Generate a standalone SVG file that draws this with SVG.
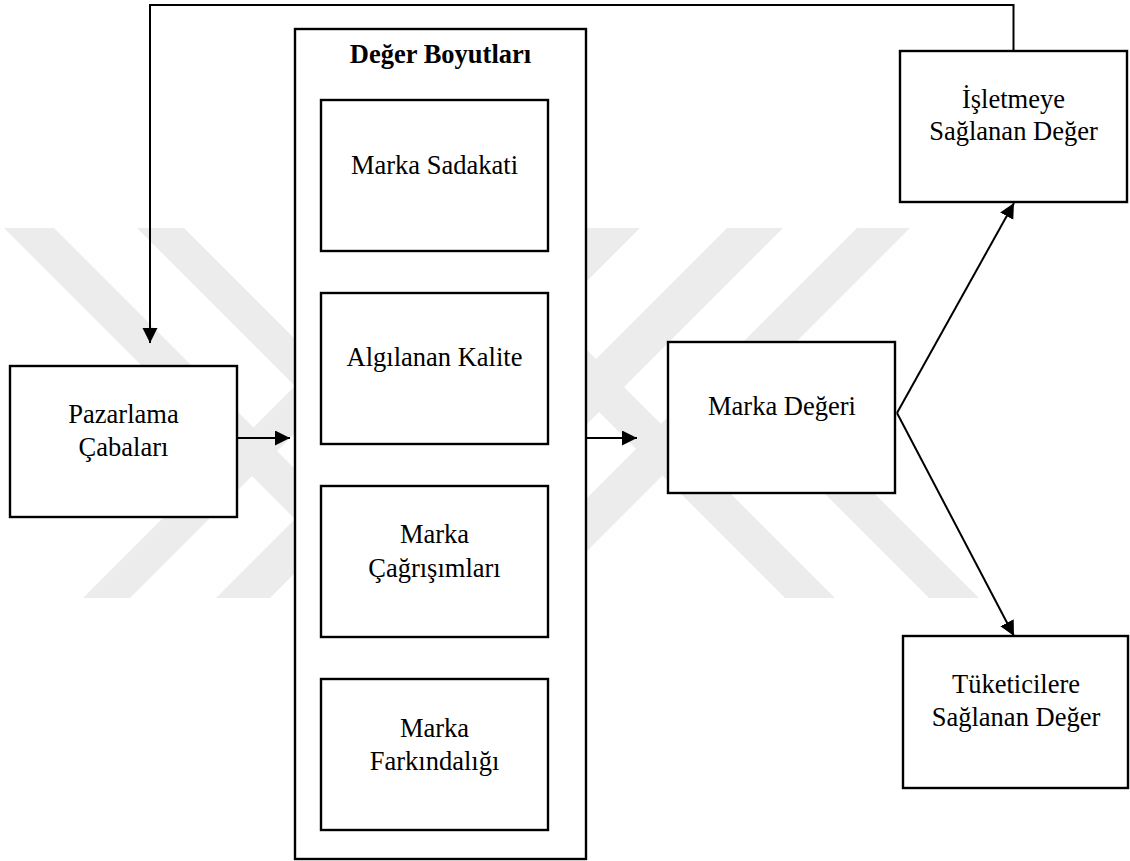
<svg xmlns="http://www.w3.org/2000/svg" width="1130" height="861" viewBox="0 0 1130 861">
  <defs>
    <style>
      .box { fill: #ffffff; stroke: #000000; stroke-width: 2.4; }
      .lbl { font-family: "Liberation Serif", "Times New Roman", serif; font-size: 26.5px; fill: #000000; text-anchor: middle; }
      .ttl { font-weight: bold; }
      .wire { fill: none; stroke: #000000; stroke-width: 2; }
      .mark { fill: #ececec; }
    </style>
    <marker id="head" markerUnits="userSpaceOnUse" markerWidth="16" markerHeight="16" refX="15" refY="7.5" orient="auto">
      <path d="M0,0 L15,7.5 L0,15 z" fill="#000000"/>
    </marker>
  </defs>

  <rect width="1130" height="861" fill="#ffffff"/>

  <!-- faint diagonal background emblem -->
  <g id="watermark" class="mark">
    <polygon points="4,228 54,228 424,598 374,598"/>
    <polygon points="137,228 184,228 554,598 507,598"/>
    <polygon points="415,228 465,228 835,598 785,598"/>
    <polygon points="691,360 741,360 979,598 929,598"/>
    <polygon points="453,228 500,228 130,598 83,598"/>
    <polygon points="586,228 640,228 270,598 216,598"/>
    <polygon points="727,228 783,228 413,598 357,598"/>
    <polygon points="857,228 910,228 540,598 487,598"/>
  </g>

  <!-- value dimensions container -->
  <g id="deger-boyutlari">
    <rect class="box" x="295" y="29" width="291" height="830"/>
    <text class="lbl ttl" x="440.5" y="63">Değer Boyutları</text>
  </g>

  <g id="marka-sadakati">
    <rect class="box" x="321" y="100" width="227" height="151"/>
    <text class="lbl" x="434.5" y="174">Marka Sadakati</text>
  </g>

  <g id="algilanan-kalite">
    <rect class="box" x="321" y="293" width="227" height="151"/>
    <text class="lbl" x="434.5" y="366">Algılanan Kalite</text>
  </g>

  <g id="marka-cagrisimlari">
    <rect class="box" x="321" y="486" width="227" height="151"/>
    <text class="lbl" x="434.5" y="543">Marka</text>
    <text class="lbl" x="434.5" y="577">Çağrışımları</text>
  </g>

  <g id="marka-farkindaligi">
    <rect class="box" x="321" y="679" width="227" height="151"/>
    <text class="lbl" x="434.5" y="737">Marka</text>
    <text class="lbl" x="434.5" y="770">Farkındalığı</text>
  </g>

  <g id="pazarlama-cabalari">
    <rect class="box" x="10" y="366" width="227" height="151"/>
    <text class="lbl" x="123.5" y="423">Pazarlama</text>
    <text class="lbl" x="123.5" y="456">Çabaları</text>
  </g>

  <g id="marka-degeri">
    <rect class="box" x="668" y="342" width="227" height="151"/>
    <text class="lbl" x="782" y="415">Marka Değeri</text>
  </g>

  <g id="isletmeye-deger">
    <rect class="box" x="900" y="51" width="227" height="151"/>
    <text class="lbl" x="1013.5" y="108">İşletmeye</text>
    <text class="lbl" x="1013.5" y="140">Sağlanan Değer</text>
  </g>

  <g id="tuketicilere-deger">
    <rect class="box" x="903" y="636" width="225" height="152"/>
    <text class="lbl" x="1016" y="693">Tüketicilere</text>
    <text class="lbl" x="1016" y="726">Sağlanan Değer</text>
  </g>

  <g id="connectors">
    <polyline class="wire" points="1013.5,51 1013.5,5 150,5 150,343" marker-end="url(#head)"/>
    <line class="wire" x1="237" y1="438" x2="290" y2="438" marker-end="url(#head)"/>
    <line class="wire" x1="586" y1="438" x2="637" y2="438" marker-end="url(#head)"/>
    <line class="wire" x1="897" y1="413" x2="1014" y2="203" marker-end="url(#head)"/>
    <line class="wire" x1="897" y1="413" x2="1014" y2="636" marker-end="url(#head)"/>
  </g>
</svg>
